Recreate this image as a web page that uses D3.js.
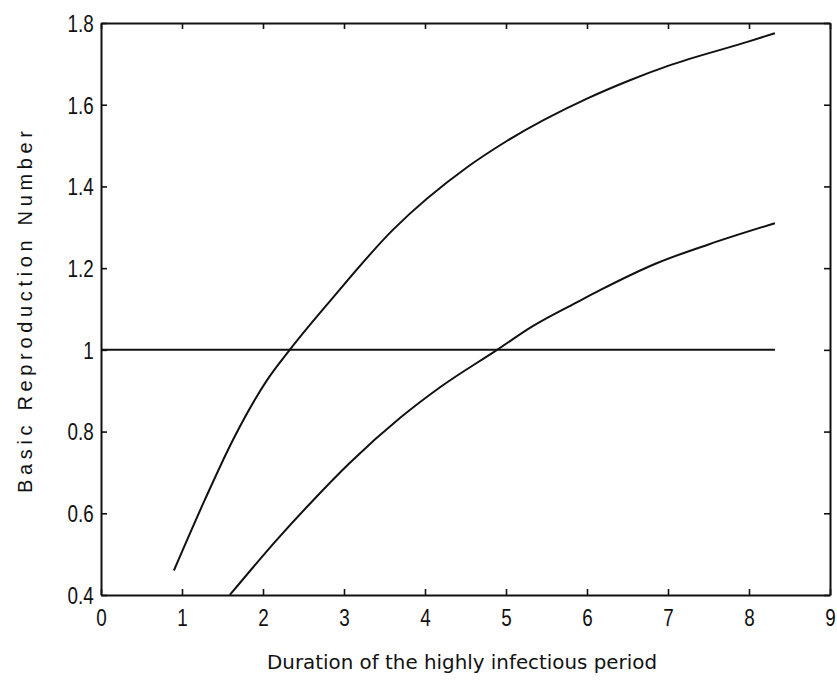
<!DOCTYPE html>
<html><head><meta charset="utf-8">
<script src="https://cdn.jsdelivr.net/npm/d3@7"></script>
<style>body{margin:0;background:#fff}svg{display:block}</style>
</head><body><svg id="c" width="837" height="682"></svg>
<script>
const xTicks = [0,1,2,3,4,5,6,7,8,9];
const yTicks = [0.4,0.6,0.8,1.0,1.2,1.4,1.6,1.8];
const yTickLabels = ["0.4","0.6","0.8","1","1.2","1.4","1.6","1.8"];
const upperX = [0.9,1.28,1.63,2.05,2.33,2.83,3.6,4.52,5.0,6.0,6.53,7.0,8.0,8.32];
const upperY = [0.46,0.632,0.78,0.926,1.0,1.12,1.293,1.447,1.51,1.615,1.66,1.695,1.755,1.775];
const lowerX = [1.59,2.17,2.62,3.07,3.69,4.19,4.89,5.33,5.91,6.16,6.86,7.5,8.32];
const lowerY = [0.4,0.535,0.632,0.723,0.833,0.909,1.0,1.058,1.12,1.146,1.212,1.258,1.31];
const refX = [0,8.32];
const refY = [1,1];
const xLabel = "Duration of the highly infectious period";
const yLabel = "Basic Reproduction Number";

const svg = d3.select("#c");
const m = {l:101, r:7, t:23, b:87};
const W = 837, H = 682;
const x = d3.scaleLinear().domain([0,9]).range([m.l, W-m.r]);
const y = d3.scaleLinear().domain([0.4,1.8]).range([H-m.b, m.t]);

const fontTicks = "'Liberation Sans', Arial, sans-serif";

const gx = svg.append("g").attr("transform",`translate(0,${H-m.b})`)
  .call(d3.axisBottom(x).tickValues(xTicks).tickFormat(d3.format("d")).tickSizeInner(-6).tickSizeOuter(0).tickPadding(14));
const gy = svg.append("g").attr("transform",`translate(${m.l},0)`)
  .call(d3.axisLeft(y).tickValues(yTicks).tickFormat((d,i)=>yTickLabels[i]).tickSizeInner(-6).tickSizeOuter(0).tickPadding(7));
const gt = svg.append("g").attr("transform",`translate(0,${m.t})`)
  .call(d3.axisTop(x).tickValues(xTicks).tickFormat("").tickSizeInner(-6).tickSizeOuter(0));
const gr = svg.append("g").attr("transform",`translate(${W-m.r},0)`)
  .call(d3.axisRight(y).tickValues(yTicks).tickFormat("").tickSizeInner(-6).tickSizeOuter(0));

[gx,gy,gt,gr].forEach(g=>{
  g.select(".domain").attr("stroke","#111").attr("stroke-width",2);
  g.selectAll(".tick line").attr("stroke","#111").attr("stroke-width",1.6);
  g.selectAll(".tick text").attr("fill","#111").attr("font-family",fontTicks).attr("font-size",23);
});
gx.selectAll(".tick text").attr("transform","scale(0.82,1)").attr("dy","0.72em");
gy.selectAll(".tick text").attr("transform","scale(0.82,1)").attr("x",-9).attr("dy","0.36em");

const line = d3.line().x(d=>x(d[0])).y(d=>y(d[1])).curve(d3.curveMonotoneX);
const upper = upperX.map((v,i)=>[v,upperY[i]]);
const lower = lowerX.map((v,i)=>[v,lowerY[i]]);
const ref = refX.map((v,i)=>[v,refY[i]]);
[upper,lower,ref].forEach(d=>{
  svg.append("path").datum(d).attr("d",line).attr("fill","none").attr("stroke","#111").attr("stroke-width",2);
});

svg.append("text").attr("x",462).attr("y",669).attr("text-anchor","middle")
  .attr("font-family","'DejaVu Sans', sans-serif").attr("font-size",19).attr("fill","#111")
  .attr("textLength",390).attr("lengthAdjust","spacingAndGlyphs").text(xLabel);
svg.append("text").attr("transform","translate(32,312) rotate(-90)").attr("text-anchor","middle")
  .attr("font-family","'Liberation Sans', Arial, sans-serif").attr("font-size",20).attr("fill","#111")
  .attr("textLength",362).attr("lengthAdjust","spacing").text(yLabel);
</script></body></html>
